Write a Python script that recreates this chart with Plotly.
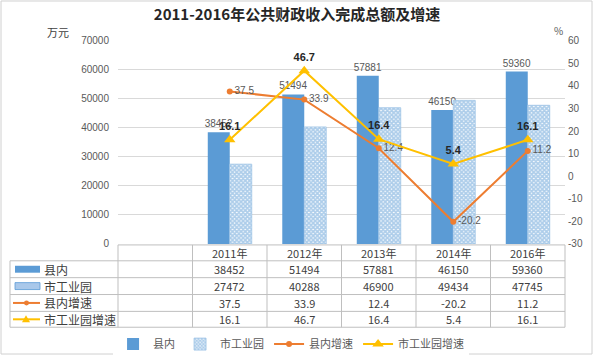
import plotly.graph_objects as go

# ---------------- data ----------------
categories = [" ", "2011年", "2012年", "2013年", "2014年", "2016年"]
years = ["2011年", "2012年", "2013年", "2014年", "2016年"]
county = [38452, 51494, 57881, 46150, 59360]          # 县内 (万元)
park = [27472, 40288, 46900, 49434, 47745]            # 市工业园 (万元)
county_growth = [37.5, 33.9, 12.4, -20.2, 11.2]       # 县内增速 (%)
park_growth = [16.1, 46.7, 16.4, 5.4, 16.1]           # 市工业园增速 (%)
series_names = ["县内", "市工业园", "县内增速", "市工业园增速"]
left_ticks = [0, 10000, 20000, 30000, 40000, 50000, 60000, 70000]
right_ticks = [-30, -20, -10, 0, 10, 20, 30, 40, 50, 60]

# ---------------- style ----------------
W, H = 594, 359
BLUE = "#5B9BD5"
ORANGE = "#ED7D31"
YELLOW = "#FFC000"
GRID = "#D9D9D9"
TXT = "#595959"
FONT = "Noto Sans CJK SC"

X0, X1 = 118, 565       # plot area in px
Y0, Y1 = 41, 246


def px(x):
    return x / W


def py(y):
    return 1 - y / H


fig = go.Figure()

fig.add_trace(go.Bar(
    x=years, y=county, name=series_names[0],
    marker=dict(color=BLUE, line=dict(width=0)),
    text=[str(v) for v in county], textposition="outside", constraintext="none",
    textfont=dict(size=10, color=TXT, family="Liberation Sans"),
    cliponaxis=False,
))
fig.add_trace(go.Bar(
    x=years, y=park, name=series_names[1],
    marker=dict(color="white", line=dict(width=0.8, color="#9DC3E6"),
                pattern=dict(shape="x", fgcolor=BLUE, bgcolor="white",
                             size=3, solidity=0.8)),
))
fig.add_trace(go.Scatter(
    x=years, y=county_growth, name=series_names[2], yaxis="y2",
    mode="lines+markers+text",
    line=dict(color=ORANGE, width=2),
    marker=dict(symbol="circle", size=6, color=ORANGE),
    text=[str(v) for v in county_growth], textposition="middle right",
    textfont=dict(size=10, color=TXT, family="Liberation Sans"),
    cliponaxis=False,
))
fig.add_trace(go.Scatter(
    x=years, y=park_growth, name=series_names[3], yaxis="y2",
    mode="lines+markers+text",
    line=dict(color=YELLOW, width=2),
    marker=dict(symbol="triangle-up", size=10, color=YELLOW),
    text=["<b>%s</b>" % v for v in park_growth], textposition="top center",
    textfont=dict(size=11, color="#262626", family="Liberation Sans"),
    cliponaxis=False,
))

shapes = []
annotations = []

# table grid
rows_y = [247, 263, 280, 297, 314, 330]
line_style = dict(color="#BFBFBF", width=1)
shapes.append(dict(type="line", xref="paper", yref="paper",
                   x0=px(X0), x1=px(X1), y0=py(rows_y[0]), y1=py(rows_y[0]), line=line_style))
for yy in rows_y[1:]:
    shapes.append(dict(type="line", xref="paper", yref="paper",
                       x0=px(10), x1=px(X1), y0=py(yy), y1=py(yy), line=line_style))
shapes.append(dict(type="line", xref="paper", yref="paper",
                   x0=px(10), x1=px(10), y0=py(263), y1=py(330), line=line_style))
ncat = len(categories)
for k in range(ncat + 1):
    xx = X0 + k * (X1 - X0) / ncat
    shapes.append(dict(type="line", xref="paper", yref="paper",
                       x0=px(xx), x1=px(xx), y0=py(247), y1=py(330), line=line_style))

# header + values
row_centers = [(rows_y[i] + rows_y[i + 1]) / 2 for i in range(5)]
for yr in years:
    annotations.append(dict(x=yr, xref="x", y=py(row_centers[0]), yref="paper",
                            xanchor="center", yanchor="middle",
                            text=yr, showarrow=False, font=dict(size=11, color="#404040")))
table_vals = [county, park, county_growth, park_growth]
for i, vals in enumerate(table_vals):
    for yr, v in zip(years, vals):
        annotations.append(dict(x=yr, xref="x", y=py(row_centers[i + 1]), yref="paper",
                                xanchor="center", yanchor="middle",
                                text=str(v), showarrow=False,
                                font=dict(size=11, color="#404040")))
    annotations.append(dict(x=px(42), xref="paper", xanchor="left",
                            y=py(row_centers[i + 1]), yref="paper", yanchor="middle",
                            text=series_names[i], showarrow=False,
                            font=dict(size=12, color="#404040")))

# table swatches
c1, c2, c3, c4 = row_centers[1:]
shapes.append(dict(type="rect", xref="paper", yref="paper", x0=px(15), x1=px(40),
                   y0=py(c1 - 3.5), y1=py(c1 + 3.5), fillcolor=BLUE, line=dict(width=0)))
shapes.append(dict(type="rect", xref="paper", yref="paper", x0=px(15), x1=px(40),
                   y0=py(c2 - 3.5), y1=py(c2 + 3.5), fillcolor="#A9C8EA",
                   line=dict(width=0.8, color=BLUE)))
shapes.append(dict(type="line", xref="paper", yref="paper", x0=px(13), x1=px(40),
                   y0=py(c3), y1=py(c3), line=dict(color=ORANGE, width=2)))
shapes.append(dict(type="circle", xref="paper", yref="paper", x0=px(24), x1=px(29),
                   y0=py(c3 - 2.5), y1=py(c3 + 2.5), fillcolor=ORANGE, line=dict(width=0)))
shapes.append(dict(type="line", xref="paper", yref="paper", x0=px(13), x1=px(40),
                   y0=py(c4), y1=py(c4), line=dict(color=YELLOW, width=2)))
shapes.append(dict(type="path", xref="paper", yref="paper",
                   path="M %f %f L %f %f L %f %f Z" % (px(22), py(c4 + 3), px(30), py(c4 + 3),
                                                      px(26), py(c4 - 4)),
                   fillcolor=YELLOW, line=dict(width=0)))

# outer frame
shapes.append(dict(type="rect", xref="paper", yref="paper", x0=px(1), x1=px(592),
                   y0=py(1), y1=py(357), line=dict(color="#D0D0D0", width=1)))

# axis unit labels
annotations.append(dict(x=px(58), y=py(32), xref="paper", yref="paper", text="万元",
                        xanchor="center", yanchor="middle",
                        showarrow=False, font=dict(size=11, color="#404040")))
annotations.append(dict(x=px(558), y=py(31), xref="paper", yref="paper", text="%",
                        xanchor="center", yanchor="middle",
                        showarrow=False, font=dict(size=10, color=TXT)))

fig.update_layout(
    width=W, height=H, autosize=False,
    margin=dict(l=0, r=0, t=0, b=0),
    paper_bgcolor="white", plot_bgcolor="white",
    font=dict(family=FONT, color=TXT),
    title=dict(text="<b>2011-2016年公共财政收入完成总额及增速</b>", x=0.5, xanchor="center",
               y=py(15), yanchor="middle", font=dict(size=15, color="#262626", family=FONT)),
    barmode="group", bargap=0.41, bargroupgap=0,
    xaxis=dict(type="category", categoryorder="array", categoryarray=categories,
               range=[-0.5, ncat - 0.5], domain=[px(X0), px(X1)], automargin=False,
               showticklabels=False, showgrid=False, zeroline=False, showline=False),
    yaxis=dict(range=[0, 70000], tickvals=left_ticks, ticktext=[str(t) for t in left_ticks],
               domain=[py(Y1), py(Y0)], automargin=False,
               showgrid=True, gridcolor=GRID, gridwidth=1, zeroline=False,
               tickfont=dict(size=10, color=TXT, family="Liberation Sans"), ticks="",
               ticklabelstandoff=8),
    yaxis2=dict(range=[-30, 60], tickvals=right_ticks, ticktext=[str(t) for t in right_ticks],
                overlaying="y", side="right", ticks="", automargin=False,
                showgrid=False, zeroline=False, ticklabelstandoff=2,
                tickfont=dict(size=10, color=TXT, family="Liberation Sans")),
    showlegend=True,
    legend=dict(orientation="h", x=0.49, xanchor="center", y=py(347), yanchor="middle",
                font=dict(size=11, color=TXT), traceorder="normal",
                itemwidth=30, tracegroupgap=0),
    shapes=shapes, annotations=annotations,
)

fig.write_html("out.html", config={"displayModeBar": False},
               post_script="document.body.style.margin='0px';document.body.style.overflow='hidden';")
